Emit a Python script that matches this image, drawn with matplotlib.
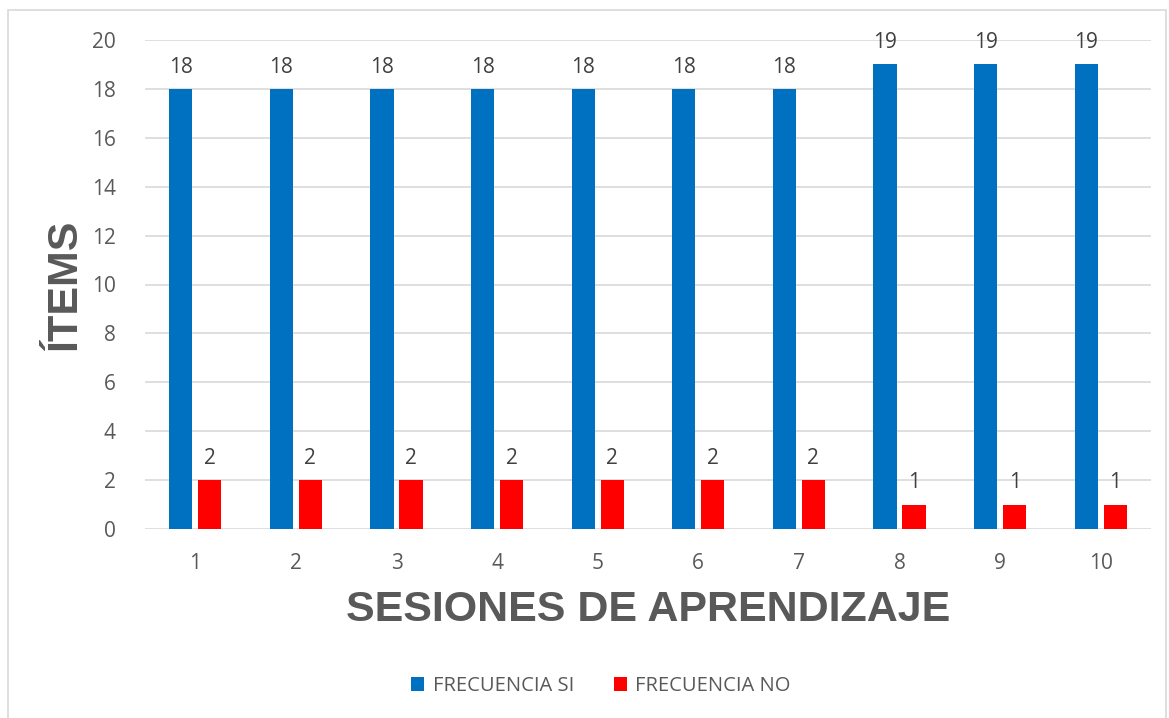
import numpy as np
import matplotlib.pyplot as plt
from matplotlib.patches import Rectangle

sesiones = ['1', '2', '3', '4', '5', '6', '7', '8', '9', '10']
frecuencia_si = [18, 18, 18, 18, 18, 18, 18, 19, 19, 19]
frecuencia_no = [2, 2, 2, 2, 2, 2, 2, 1, 1, 1]

azul = '#0070C0'
rojo = '#FF0000'
gris = '#595959'

plt.rcParams['font.family'] = ['Open Sans', 'DejaVu Sans']

fig = plt.figure(figsize=(11.69, 7.18), dpi=100)
W, H = 1169, 718
ax = fig.add_axes([145 / W, 1 - 529 / H, (1151 - 145) / W, (529 - 40) / H])

x = np.arange(len(sesiones))
ancho = 0.23
b1 = ax.bar(x - 0.144, frecuencia_si, ancho, color=azul, label='FRECUENCIA SI', zorder=3)
b2 = ax.bar(x + 0.144, frecuencia_no, ancho, color=rojo, label='FRECUENCIA NO', zorder=3)
ax.bar_label(b1, padding=8, fontsize=15, color='#404040')
ax.bar_label(b2, padding=8, fontsize=15, color='#404040')

ax.set_xlim(-0.5, len(sesiones) - 0.5)
ax.set_ylim(0, 20)
ax.set_yticks(range(0, 21, 2))
ax.set_xticks(x)
ax.set_xticklabels(sesiones)
ax.tick_params(length=0, labelsize=15, colors=gris)
ax.tick_params(axis='y', pad=21)
ax.tick_params(axis='x', pad=17)
ax.grid(axis='y', color='#D9D9D9', linewidth=1.2, zorder=0)
for s in ax.spines.values():
    s.set_visible(False)

ax.set_xlabel('SESIONES DE APRENDIZAJE', fontsize=31, fontweight='bold',
              color=gris, family=['Liberation Sans', 'DejaVu Sans'], labelpad=12)
ax.set_ylabel('ÍTEMS', fontsize=31, fontweight='bold',
              color=gris, family=['Liberation Sans', 'DejaVu Sans'], labelpad=5)

fig.legend(handles=[b1, b2], loc='center', bbox_to_anchor=(601 / W, 1 - 686 / H),
           ncol=2, frameon=False, fontsize=14.5, handlelength=0.65, handleheight=0.65,
           columnspacing=2.0, handletextpad=0.4, labelcolor=gris)

fig.patches.append(Rectangle((8 / W, -0.01), (1166 - 8) / W, 1.01 - 10 / H,
                             transform=fig.transFigure, fill=False,
                             edgecolor='#D9D9D9', linewidth=1.2))

fig.savefig('out.png', dpi=100)
